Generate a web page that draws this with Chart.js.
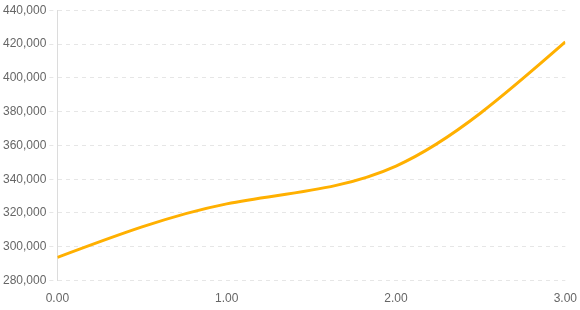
<!DOCTYPE html>
<html>
<head>
<meta charset="utf-8">
<script src="https://cdn.jsdelivr.net/npm/chart.js@4/dist/chart.umd.min.js"></script>
<style>
  html, body { margin: 0; padding: 0; background: #fff; }
  #chart { display: block; }
</style>
</head>
<body>
<canvas id="chart" width="580" height="310"></canvas>
<script>
// Data
const xValues = [0, 1, 2, 3];
const yValues = [293700, 325400, 347800, 421200];
const yTicks = [280000, 300000, 320000, 340000, 360000, 380000, 400000, 420000, 440000];

const points = xValues.map((x, i) => ({ x: x, y: yValues[i] }));

// The reference curve is a natural cubic spline, which Chart.js has no mode for.
// Recompute the bezier control points of the line element from its (scale-placed) points.
const naturalSpline = {
  id: 'naturalSpline',
  beforeDatasetDraw(chart, args) {
    const line = args.meta.dataset;
    line.updateControlPoints(chart.chartArea, 'x');
    const pts = line.points;
    const n = pts.length;
    if (n < 3) return;
    const xs = pts.map(p => p.x), ys = pts.map(p => p.y);
    const h = [];
    for (let i = 0; i < n - 1; i++) h.push(xs[i + 1] - xs[i]);
    // tridiagonal solve for second derivatives, M[0] = M[n-1] = 0
    const M = new Array(n).fill(0);
    const a = [], b = [], c = [], d = [];
    for (let i = 1; i < n - 1; i++) {
      a.push(h[i - 1]);
      b.push(2 * (h[i - 1] + h[i]));
      c.push(h[i]);
      d.push(6 * ((ys[i + 1] - ys[i]) / h[i] - (ys[i] - ys[i - 1]) / h[i - 1]));
    }
    const m = b.length;
    for (let i = 1; i < m; i++) {
      const w = a[i] / b[i - 1];
      b[i] -= w * c[i - 1];
      d[i] -= w * d[i - 1];
    }
    const sol = new Array(m);
    sol[m - 1] = d[m - 1] / b[m - 1];
    for (let i = m - 2; i >= 0; i--) sol[i] = (d[i] - c[i] * sol[i + 1]) / b[i];
    for (let i = 0; i < m; i++) M[i + 1] = sol[i];
    // slopes at the knots
    const s = [];
    for (let i = 0; i < n - 1; i++) {
      s.push((ys[i + 1] - ys[i]) / h[i] - h[i] * (2 * M[i] + M[i + 1]) / 6);
    }
    s.push((ys[n - 1] - ys[n - 2]) / h[n - 2] + h[n - 2] * (M[n - 2] + 2 * M[n - 1]) / 6);
    for (let i = 0; i < n - 1; i++) {
      pts[i].cp2x = xs[i] + h[i] / 3;
      pts[i].cp2y = ys[i] + s[i] * h[i] / 3;
      pts[i + 1].cp1x = xs[i + 1] - h[i] / 3;
      pts[i + 1].cp1y = ys[i + 1] - s[i + 1] * h[i] / 3;
    }
  }
};

Chart.defaults.font.family = '"Liberation Sans", Arial, sans-serif';
Chart.defaults.font.size = 12;
Chart.defaults.color = '#666';

const ctx = document.getElementById('chart').getContext('2d');
new Chart(ctx, {
  type: 'line',
  data: {
    datasets: [{
      data: points,
      borderColor: '#ffb000',
      borderWidth: 3,
      pointRadius: 0,
      fill: false,
      cubicInterpolationMode: 'monotone'
    }]
  },
  options: {
    responsive: false,
    animation: false,
    layout: { padding: { top: 3, right: 3, bottom: 1, left: 0 } },
    plugins: {
      legend: { display: false },
      tooltip: { enabled: false }
    },
    scales: {
      x: {
        type: 'linear',
        min: 0,
        max: 3,
        grid: { display: false },
        border: { display: false },
        ticks: {
          stepSize: 1,
          callback: v => Number(v).toFixed(2)
        }
      },
      y: {
        min: yTicks[0],
        max: yTicks[yTicks.length - 1],
        grid: {
          color: '#e6e6e6',
          tickBorderDash: [4, 4]
        },
        border: { display: true, color: '#dcdcdc', dash: [4, 4] },
        ticks: {
          stepSize: 20000,
          callback: v => Number(v).toLocaleString('en-US')
        }
      }
    }
  },
  plugins: [naturalSpline]
});
</script>
</body>
</html>
